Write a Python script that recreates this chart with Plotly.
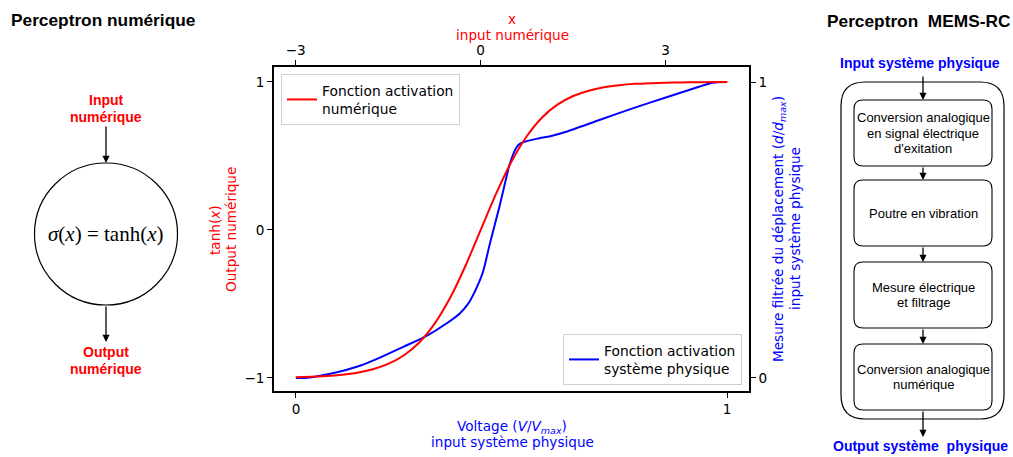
import plotly.graph_objects as go

# ---------------- data ----------------
# numeric input x (top axis) and tanh(x) output (left axis)
x_num = [-3.0, -2.75, -2.5, -2.25, -2.0, -1.75, -1.5, -1.25, -1.0, -0.75, -0.5, -0.25,
         0.0, 0.25, 0.5, 0.75, 1.0, 1.25, 1.5, 1.75, 2.0, 2.25, 2.5, 2.75, 3.0, 3.25,
         3.5, 3.75, 4.0]
y_num = [-0.995, -0.992, -0.987, -0.978, -0.964, -0.941, -0.905, -0.848, -0.762, -0.635,
         -0.462, -0.245, 0.0, 0.245, 0.462, 0.635, 0.762, 0.848, 0.905, 0.941, 0.964,
         0.978, 0.987, 0.992, 0.995, 0.997, 0.998, 0.999, 0.999]

# physical system: voltage V/Vmax (bottom axis) and filtered displacement d/dmax (right axis)
v_phys = [0.0, 0.02, 0.05, 0.10, 0.15, 0.20, 0.25, 0.30, 0.35, 0.38, 0.40, 0.42, 0.434,
          0.449, 0.461, 0.472, 0.482, 0.494, 0.505, 0.513, 0.520, 0.530, 0.560, 0.590,
          0.627, 0.704, 0.781, 0.858, 0.935, 0.966, 1.0]
d_phys = [0.0, 0.0, 0.006, 0.021, 0.042, 0.072, 0.106, 0.140, 0.185, 0.218, 0.252, 0.308,
          0.359, 0.449, 0.517, 0.579, 0.640, 0.713, 0.760, 0.782, 0.792, 0.798, 0.809,
          0.817, 0.832, 0.872, 0.911, 0.948, 0.984, 0.998, 1.0]

x_top_ticks = [-3, 0, 3]
x_bottom_ticks = [0, 1]
y_left_ticks = [-1, 0, 1]
y_right_ticks = [0, 1]

RED = "#ff0000"
BLUE = "#0000ff"
MPL = "DejaVu Sans"
ARIAL = "Liberation Sans, Arial"

W, H = 1013, 457
L, R, T, B = 274, 749, 67, 391


def px(x):
    return (x - L) / (R - L)


def py(y):
    return (B - y) / (B - T)


fig = go.Figure()
# empty base trace so the main x/y subplot exists for the overlaid axes
fig.add_trace(go.Scatter(x=[], y=[], xaxis="x", yaxis="y", showlegend=False, hoverinfo="skip"))
fig.add_trace(go.Scatter(x=x_num, y=y_num, xaxis="x2", yaxis="y", mode="lines",
                         line=dict(color=RED, width=2, shape="spline", smoothing=0.6),
                         name="Fonction activation<br>numérique", legend="legend"))
fig.add_trace(go.Scatter(x=v_phys, y=d_phys, xaxis="x", yaxis="y2", mode="lines",
                         line=dict(color=BLUE, width=2, shape="spline", smoothing=0.6),
                         name="Fonction activation<br>système physique", legend="legend2"))

axis_common = dict(showgrid=False, zeroline=False, showline=True, linecolor="black",
                   linewidth=1.6, ticks="outside", ticklen=5, tickwidth=1, tickcolor="black",
                   tickfont=dict(family=MPL, size=13.6, color="black"))

fig.update_layout(
    width=W, height=H,
    margin=dict(l=L, r=W - R, t=T, b=H - B),
    paper_bgcolor="white", plot_bgcolor="white",
    template="none",
    font=dict(family=MPL, size=13.6, color="black"),
    xaxis=dict(range=[-0.051, 1.051], tickvals=x_bottom_ticks, ticktext=["0", "1"],
               side="bottom", anchor="y", **axis_common),
    xaxis2=dict(range=[-3.352, 4.351], tickvals=x_top_ticks, overlaying="x", side="top",
                anchor="y", **axis_common),
    yaxis=dict(range=[-1.088, 1.101], tickvals=y_left_ticks, side="left", anchor="x",
               **axis_common),
    yaxis2=dict(range=[-0.044, 1.051], tickvals=y_right_ticks, overlaying="y", side="right",
                anchor="x", **axis_common),
    legend=dict(x=px(281), y=py(74), xanchor="left", yanchor="top",
                bgcolor="white", bordercolor="#d0d0d0", borderwidth=1,
                font=dict(family=MPL, size=13.8, color="black")),
    legend2=dict(x=px(742), y=py(385), xanchor="right", yanchor="bottom",
                 bgcolor="white", bordercolor="#d0d0d0", borderwidth=1,
                 font=dict(family=MPL, size=13.8, color="black")),
    showlegend=True,
)

ann = []


def text(x, y, s, color="black", size=13.6, family=MPL, angle=0, bold=False):
    if bold:
        s = "<b>" + s + "</b>"
    ann.append(dict(x=px(x), y=py(y), xref="paper", yref="paper", text=s, showarrow=False,
                    xanchor="center", yanchor="middle", textangle=angle,
                    font=dict(family=family, size=size, color=color)))


def arrow(x, y_tail, y_tip):
    ann.append(dict(x=px(x), y=py(y_tip), xref="paper", yref="paper", text="",
                    showarrow=True, ax=0, ay=y_tail - y_tip, arrowhead=2, arrowsize=1.1,
                    arrowwidth=1.3, arrowcolor="black", standoff=0))


# axis titles
text(512, 19, "x", RED)
text(512, 35, "input numérique", RED)
text(512, 427, "Voltage (<i>V</i>/<i>V</i><sub><i>max</i></sub>)", BLUE)
text(512, 442, "input système physique", BLUE)
text(215, 230, "tanh(<i>x</i>)", RED, angle=-90)
text(231, 230, "Output numérique", RED, angle=-90)
text(779, 229, "Mesure filtrée du déplacement (<i>d</i>/<i>d</i><sub><i>max</i></sub>)", BLUE, angle=-90)
text(795, 229, "input système physique", BLUE, angle=-90)

# left diagram: numeric perceptron
text(103, 20, "Perceptron numérique", "black", 17.3, ARIAL, bold=True)
text(106, 100, "Input", RED, 14, ARIAL, bold=True)
text(106, 117, "numérique", RED, 14, ARIAL, bold=True)
arrow(106, 125, 163)
text(106, 234, "<i>σ</i>(<i>x</i>) = tanh(<i>x</i>)", "black", 21, "Liberation Serif")
arrow(106, 305, 342)
text(106, 352, "Output", RED, 14, ARIAL, bold=True)
text(106, 369, "numérique", RED, 14, ARIAL, bold=True)

# right diagram: MEMS-RC perceptron
text(918, 21, "Perceptron  MEMS-RC", "black", 17.3, ARIAL, bold=True)
text(920, 63, "Input système physique", BLUE, 14, ARIAL, bold=True)
text(920, 446, "Output système  physique", BLUE, 14, ARIAL, bold=True)

boxes = [(100, 166, ["Conversion analogique", "en signal électrique", "d'exitation"]),
         (180, 246, ["Poutre en vibration"]),
         (262, 328, ["Mesure électrique", "et filtrage"]),
         (344, 410, ["Conversion analogique", "numérique"])]
BX0, BX1, BXC = 854, 992, 923
for top, bot, lines in boxes:
    mid = (top + bot) / 2
    n = len(lines)
    for i, ln in enumerate(lines):
        text(BXC, mid + (i - (n - 1) / 2) * 15.5, ln, "black", 13, ARIAL)

arrow(BXC, 75, 100)
arrow(BXC, 166, 180)
arrow(BXC, 246, 262)
arrow(BXC, 328, 344)
arrow(BXC, 410, 437)


def rrect(x0, y0, x1, y1, r):
    pts = [("M", [(x0 + r, y0)]), ("L", [(x1 - r, y0)]), ("Q", [(x1, y0), (x1, y0 + r)]),
           ("L", [(x1, y1 - r)]), ("Q", [(x1, y1), (x1 - r, y1)]), ("L", [(x0 + r, y1)]),
           ("Q", [(x0, y1), (x0, y1 - r)]), ("L", [(x0, y0 + r)]),
           ("Q", [(x0, y0), (x0 + r, y0)])]
    s = ""
    for cmd, ps in pts:
        s += cmd + " " + " ".join(f"{px(a):.5f},{py(b):.5f}" for a, b in ps) + " "
    return s + "Z"


shapes = [dict(type="path", xref="paper", yref="paper", path=rrect(841, 82, 1004, 419, 24),
               line=dict(color="black", width=1.2), fillcolor="rgba(0,0,0,0)", layer="above")]
for top, bot, _ in boxes:
    shapes.append(dict(type="path", xref="paper", yref="paper",
                       path=rrect(BX0, top, BX1, bot, 9),
                       line=dict(color="black", width=1.1), fillcolor="white", layer="below"))
shapes.append(dict(type="circle", xref="paper", yref="paper",
                   x0=px(34.5), x1=px(177.5), y0=py(305), y1=py(163),
                   line=dict(color="black", width=1.2), fillcolor="rgba(0,0,0,0)"))

fig.update_layout(annotations=ann, shapes=shapes)
fig.write_html("out.html")
